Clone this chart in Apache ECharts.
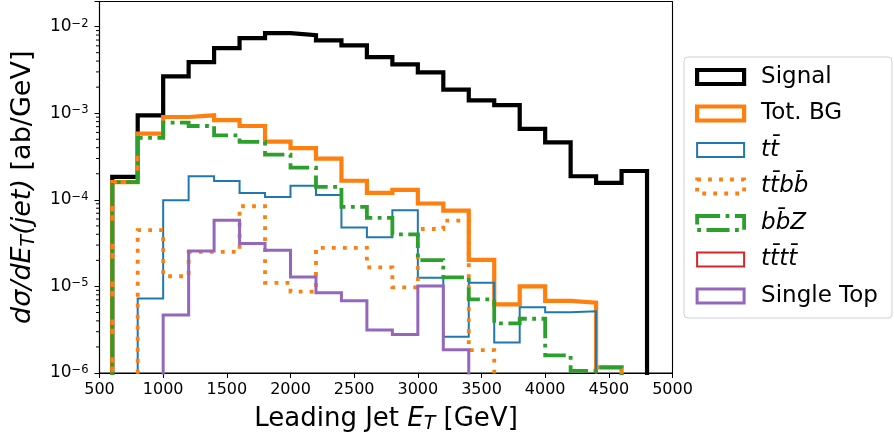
<!DOCTYPE html>
<html>
<head>
<meta charset="utf-8">
<script src="https://cdn.jsdelivr.net/npm/echarts@6/dist/echarts.min.js"></script>
<style>
html, body { margin: 0; padding: 0; background: #fff; }
#chart { width: 894px; height: 442px; }
</style>
</head>
<body>
<div id="chart"></div>
<script>
// bin edges, 200 GeV wide
var binEdges = [600, 800, 1000, 1200, 1400, 1600, 1800, 2000, 2200, 2400, 2600,
  2800, 3000, 3200, 3400, 3600, 3800, 4000, 4200, 4400, 4600, 4800];

// dsigma/dE_T per bin [ab/GeV], 0 = empty bin
var signal = [1.84e-4, 9.46e-4, 2.67e-3, 3.89e-3, 5.65e-3, 7.36e-3, 8.4e-3, 7.98e-3, 6.93e-3, 6.07e-3,
  4.45e-3, 3.66e-3, 2.96e-3, 1.87e-3, 1.41e-3, 1.24e-3, 6.58e-4, 4.61e-4, 1.87e-4, 1.57e-4, 2.15e-4];
var totBG = [1.6e-4, 5.82e-4, 9.04e-4, 9.46e-4, 8.3e-4, 7.12e-4, 4.7e-4, 3.95e-4, 2.99e-4, 1.66e-4,
  1.2e-4, 1.3e-4, 9.06e-5, 7.5e-5, 2.03e-5, 6.2e-6, 1.0e-5, 6.82e-6, 6.47e-6, 1.16e-6, 0];
var ttbar = [0, 7.27e-6, 9.9e-5, 1.87e-4, 1.65e-4, 1.2e-4, 1.08e-4, 1.45e-4, 1.14e-4, 4.79e-5,
  3.7e-5, 7.59e-5, 1.26e-5, 2.62e-6, 1.1e-5, 2.25e-6, 5.73e-6, 5.03e-6, 5.15e-6, 0, 0];
var ttbb = [0, 4.46e-5, 1.31e-5, 2.5e-5, 2.5e-5, 8.43e-5, 1.1e-5, 8.7e-6, 2.79e-5, 2.79e-5,
  1.66e-5, 9.73e-6, 4.6e-5, 5.76e-5, 1.84e-6, 0, 0, 0, 0, 0, 0];
var bbZ = [1.6e-4, 5.2e-4, 7.8e-4, 7.12e-4, 5.56e-4, 4.66e-4, 3.33e-4, 2.35e-4, 1.41e-4, 8.28e-5,
  6.18e-5, 3.98e-5, 2.01e-5, 1.27e-5, 7.1e-6, 3.74e-6, 4.23e-6, 1.6e-6, 1.06e-6, 1.16e-6, 0];
var tttt = [0, 0, 0, 0, 0, 0, 0, 0, 0, 0, 0, 0, 0, 0, 0, 0, 0, 0, 0, 0, 0];
var singleTop = [0, 0, 4.67e-6, 2.57e-5, 5.82e-5, 3.13e-5, 2.62e-5, 1.28e-5, 8.44e-6, 6.82e-6,
  3.13e-6, 2.79e-6, 1.01e-5, 1.86e-6, 0, 0, 0, 0, 0, 0, 0];

var FONT = 'DejaVu Sans';
var xMin = 500, xMax = 5000, xStep = 500;
var yMin = 1e-6, yMax = 0.0195;
var FLOOR = 1e-8; // empty bins go below the axis and get clipped

// matplotlib style step outline
function stepData(vals) {
  var pts = [[binEdges[0], FLOOR]];
  for (var i = 0; i < vals.length; i++) {
    pts.push([binEdges[i], vals[i] > 0 ? vals[i] : FLOOR]);
  }
  var last = vals[vals.length - 1] > 0 ? vals[vals.length - 1] : FLOOR;
  pts.push([binEdges[binEdges.length - 1], last]);
  pts.push([binEdges[binEdges.length - 1], FLOOR]);
  return pts;
}

// minor log ticks 2..9 x 10^n
var minorTicks = [];
for (var d = -6; d <= -2; d++) {
  for (var k = 2; k <= 9; k++) {
    var tv = k * Math.pow(10, d);
    if (tv < yMax) minorTicks.push(tv);
  }
}

var histos = [
  { name: 'Signal', data: signal, color: '#000000', width: 4.2, dash: 'solid' },
  { name: 'Tot. BG', data: totBG, color: '#ff7f0e', width: 4.2, dash: 'solid' },
  { name: 'ttbar', data: ttbar, color: '#1f77b4', width: 2, dash: 'solid' },
  { name: 'ttbb', data: ttbb, color: '#ff7f0e', width: 3.8, dash: [3.8, 7.2] },
  { name: 'bbZ', data: bbZ, color: '#2ca02c', width: 3.8, dash: [23, 5.5, 3.8, 5.5] },
  { name: 'tttt', data: tttt, color: '#d62728', width: 2, dash: 'solid' },
  { name: 'Single Top', data: singleTop, color: '#9467bd', width: 3, dash: 'solid' }
];

var legendText = {
  'Signal': 'Signal',
  'Tot. BG': 'Tot. BG',
  'ttbar': '{i|tt\u0304}',
  'ttbb': '{i|tt\u0304bb\u0304}',
  'bbZ': '{i|bb\u0304Z}',
  'tttt': '{i|tt\u0304tt\u0304}',
  'Single Top': 'Single Top'
};

var chart = echarts.init(document.getElementById('chart'));

var series = histos.map(function (h) {
  return {
    name: h.name,
    type: 'line',
    step: 'end',
    showSymbol: false,
    symbol: 'none',
    clip: true,
    animation: false,
    data: stepData(h.data),
    lineStyle: { color: h.color, width: h.width, type: h.dash, cap: 'butt', join: 'miter' },
    itemStyle: { color: h.color }
  };
});

// minor ticks of the log axis as small marks just left of the axis
series.push({
  name: 'minorTicks',
  type: 'scatter',
  silent: true,
  clip: false,
  animation: false,
  z: 10,
  symbol: 'rect',
  symbolSize: [3.5, 1],
  symbolOffset: [-1.75, 0],
  itemStyle: { color: '#000', opacity: 1 },
  data: minorTicks.map(function (t) { return [xMin, t]; })
});

chart.setOption({
  backgroundColor: '#fff',
  animation: false,
  textStyle: { fontFamily: FONT },
  grid: {
    left: 99.5, right: 221.5, top: 1.5, bottom: 69,
    show: true, borderColor: '#000', borderWidth: 1.1,
    outerBoundsMode: 'none'
  },
  legend: {
    orient: 'vertical',
    left: 684, top: 57,
    padding: [8, 14, 10, 11],
    backgroundColor: '#fff',
    borderColor: '#d0d0d0', borderWidth: 1, borderRadius: 4,
    itemWidth: 47, itemHeight: 14, itemGap: 12.5,
    selectedMode: false,
    textStyle: {
      fontFamily: FONT, fontSize: 23, color: '#000', lineHeight: 24,
      padding: [0, 0, 0, 12],
      rich: { i: { fontFamily: FONT, fontStyle: 'italic', fontSize: 23, lineHeight: 24 } }
    },
    formatter: function (name) { return legendText[name]; },
    data: histos.map(function (h) {
      return {
        name: h.name,
        icon: 'rect',
        itemStyle: {
          color: 'rgba(0,0,0,0)', borderColor: h.color, borderWidth: h.width,
          borderType: h.dash, borderCap: 'butt'
        },
        lineStyle: { width: 0 }
      };
    })
  },
  xAxis: {
    type: 'value',
    min: xMin, max: xMax, interval: xStep,
    axisLine: { show: true, onZero: false, lineStyle: { color: '#000', width: 1.1 } },
    axisTick: { show: true, length: 5, lineStyle: { color: '#000', width: 1 } },
    splitLine: { show: false },
    axisLabel: {
      fontSize: 16, color: '#000', fontFamily: FONT, margin: 9,
      formatter: function (v) { return String(v); }
    },
    name: 'Leading Jet {i|E}{s|T} [GeV]',
    nameLocation: 'middle',
    nameGap: 31,
    nameTextStyle: {
      fontSize: 26, color: '#000', fontFamily: FONT, lineHeight: 30,
      rich: {
        i: { fontSize: 26, fontStyle: 'italic', fontFamily: FONT, lineHeight: 30 },
        s: { fontSize: 19, fontStyle: 'italic', fontFamily: FONT, lineHeight: 20, verticalAlign: 'bottom' }
      }
    }
  },
  yAxis: {
    type: 'log',
    logBase: 10,
    min: yMin, max: yMax,
    axisLine: { show: true, lineStyle: { color: '#000', width: 1.1 } },
    axisTick: { show: true, length: 5, lineStyle: { color: '#000', width: 1 } },
    splitLine: { show: false },
    axisLabel: {
      margin: 11,
      color: '#000',
      fontFamily: FONT,
      formatter: function (v) {
        var e = Math.log10(v);
        if (Math.abs(e - Math.round(e)) > 1e-6) return '';
        return '{b|10}{sup|\u2212' + (-Math.round(e)) + '}';
      },
      rich: {
        b: { fontSize: 17, lineHeight: 18, fontFamily: FONT, color: '#000' },
        sup: { fontSize: 11.5, lineHeight: 11, verticalAlign: 'top', fontFamily: FONT, color: '#000' }
      }
    },
    name: '{i|d\u03c3/dE}{s|T}{i|(jet)} [ab/GeV]',
    nameLocation: 'middle',
    nameRotate: 90,
    nameGap: 61,
    nameTextStyle: {
      fontSize: 27, color: '#000', fontFamily: FONT, lineHeight: 31,
      rich: {
        i: { fontSize: 27, fontStyle: 'italic', fontFamily: FONT, lineHeight: 31 },
        s: { fontSize: 19, fontStyle: 'italic', fontFamily: FONT, lineHeight: 21, verticalAlign: 'bottom' }
      }
    }
  },
  series: series
});
</script>
</body>
</html>
